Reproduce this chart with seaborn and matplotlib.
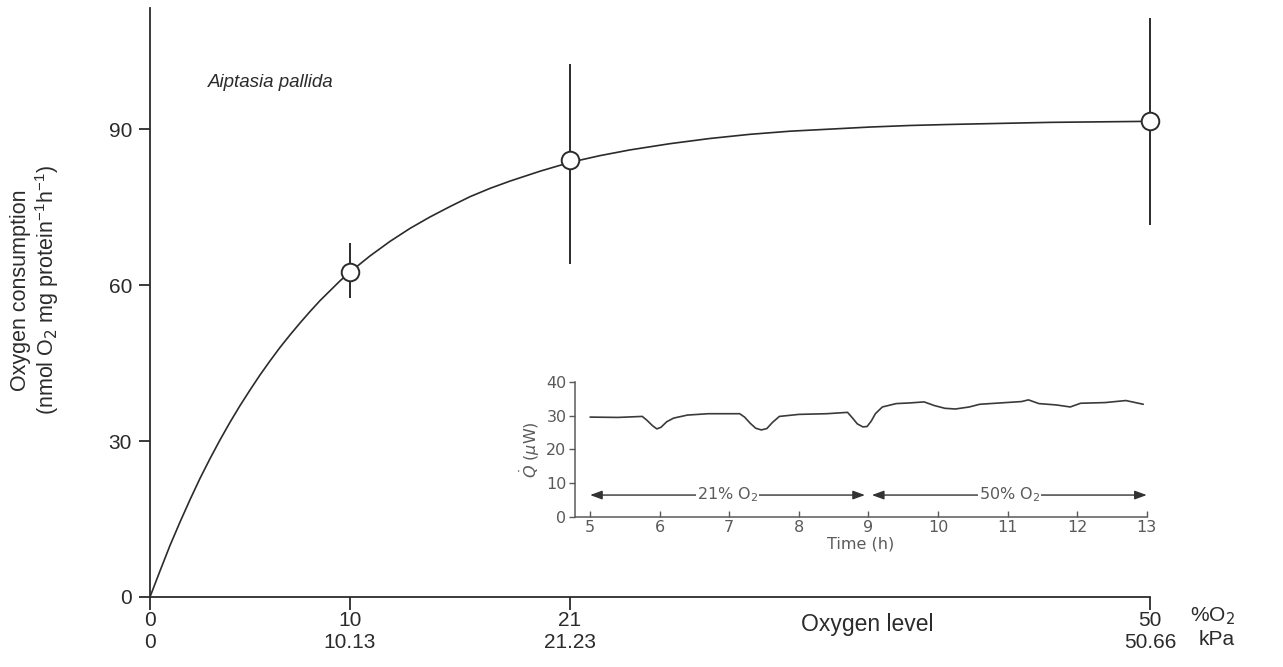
import matplotlib
matplotlib.use("Agg")
import matplotlib.pyplot as plt
import numpy as np
import pandas as pd
import seaborn as sns

# main panel: oxygen consumption vs oxygen level
pct_o2 = [0, 10, 21, 50]
kpa_labels = ["0", "10.13", "21.23", "50.66"]
y_ticks = [0, 30, 60, 90]

obs_x = [10, 21, 50]
obs_mean = [62.5, 84.0, 91.5]
obs_low = [57.5, 64.0, 71.5]
obs_high = [68.0, 102.5, 111.3]

# fitted curve
curve_x = [0, 0.5, 1, 1.5, 2, 2.5, 3, 3.5, 4, 4.5, 5, 5.5, 6, 6.5, 7, 7.5, 8, 8.5, 9, 9.5, 10,
           11, 12, 13, 14, 15, 16, 17, 18, 19.5, 21, 22.5, 24, 26, 28, 30, 32, 34, 36, 38, 40,
           42.5, 45, 47.5, 50]
curve_y = [0, 5.0, 9.9, 14.4, 18.7, 22.8, 26.6, 30.2, 33.6, 36.8, 39.8, 42.7, 45.4, 48.0,
           50.4, 52.7, 54.9, 57.0, 58.9, 60.8, 62.5, 65.6, 68.4, 70.9, 73.1, 75.1, 77.0, 78.6,
           80.0, 81.9, 83.6, 84.9, 86.0, 87.2, 88.2, 89.0, 89.6, 90.0, 90.4, 90.7, 90.9, 91.1,
           91.3, 91.4, 91.5]

# inset: heat flow trace
trace_t = [5.0, 5.4, 5.75, 5.82, 5.9, 5.96, 6.02, 6.1, 6.2, 6.4, 6.7, 7.15, 7.22, 7.3, 7.38,
           7.46, 7.54, 7.62, 7.72, 8.0, 8.4, 8.7, 8.76, 8.84, 8.92, 8.98, 9.04, 9.1, 9.2, 9.4,
           9.6, 9.8, 9.95, 10.1, 10.25, 10.45, 10.6, 10.9, 11.2, 11.3, 11.45, 11.7, 11.9, 12.05,
           12.4, 12.7, 12.95]
trace_q = [29.6, 29.5, 29.8, 28.6, 27.0, 26.1, 26.6, 28.2, 29.3, 30.2, 30.6, 30.6, 29.6, 27.8,
           26.3, 25.8, 26.2, 28.0, 29.8, 30.4, 30.6, 31.0, 29.6, 27.6, 26.7, 26.8, 28.4, 30.6,
           32.6, 33.6, 33.8, 34.1, 33.0, 32.2, 32.0, 32.6, 33.4, 33.8, 34.2, 34.7, 33.6, 33.2,
           32.6, 33.7, 33.9, 34.5, 33.4]
inset_xticks = [5, 6, 7, 8, 9, 10, 11, 12, 13]
inset_yticks = [0, 10, 20, 30, 40]
phases = [(5.0, 8.95, "21% O$_2$"), (9.05, 13.0, "50% O$_2$")]
phase_level = 6.5

sns.set_theme(style="ticks")
plt.rcParams["font.family"] = ["Liberation Sans", "DejaVu Sans"]
ink = "#2b2b2b"
grey = "#5a5a5a"

fig = plt.figure(figsize=(12.83, 6.67), dpi=100)
fig.patch.set_facecolor("white")
ax = fig.add_axes([0.1169, 0.105, 0.7794, 0.883])

curve_df = pd.DataFrame({"x": curve_x, "y": curve_y})
sns.lineplot(data=curve_df, x="x", y="y", ax=ax, color=ink, lw=1.2, clip_on=False)
ax.vlines(obs_x, obs_low, obs_high, color=ink, lw=1.4, clip_on=False, zorder=3)
sns.scatterplot(x=obs_x, y=obs_mean, ax=ax, s=160, marker="o", facecolor="white",
                edgecolor=ink, linewidth=1.4, zorder=4, clip_on=False)

ax.set_xlim(0, 50)
ax.set_ylim(0, 113.3)
ax.set_xticks(pct_o2)
ax.set_xticklabels([f"{p}\n{k}" for p, k in zip(pct_o2, kpa_labels)], fontsize=15, color=ink)
ax.set_yticks(y_ticks)
ax.set_yticklabels([str(v) for v in y_ticks], fontsize=15, color=ink)
ax.tick_params(axis="x", length=9, width=1.3, pad=1, color=ink)
ax.tick_params(axis="y", length=8, width=1.3, pad=5, color=ink)
sns.despine(ax=ax)
for s in ["left", "bottom"]:
    ax.spines[s].set_linewidth(1.3)
    ax.spines[s].set_color(ink)
ax.set_xlabel("")
ax.set_ylabel("")

ax.text(2.9, 99, "Aiptasia pallida", style="italic", fontsize=13.5, color=ink, va="center")
fig.text(0.676, 0.064, "Oxygen level", fontsize=16.5, color=ink, ha="center", va="center")
fig.text(0.945, 0.076, "%O$_2$", fontsize=15, color=ink, ha="center", va="center")
fig.text(0.948, 0.041, "kPa", fontsize=15, color=ink, ha="center", va="center")
fig.text(0.028, 0.565, "Oxygen consumption\n(nmol O$_2$ mg protein$^{\\mathregular{-1}}$h$^{\\mathregular{-1}}$)",
         rotation=90, fontsize=15.5, color=ink, ha="center", va="center", linespacing=1.1)

# inset
ins = fig.add_axes([0.448, 0.2249, 0.4458, 0.2024])
ins.patch.set_alpha(0)
trace_df = pd.DataFrame({"t": trace_t, "q": trace_q})
sns.lineplot(data=trace_df, x="t", y="q", ax=ins, color="#3a3a3a", lw=1.2)
ins.set_xlim(4.78, 13.0)
ins.set_ylim(0, 40)
ins.set_xticks(inset_xticks)
ins.set_yticks(inset_yticks)
ins.tick_params(labelsize=11.5, labelcolor=grey, color=grey, length=4, width=1, pad=2)
ins.tick_params(axis="x", direction="in")
sns.despine(ax=ins)
for s in ["left", "bottom"]:
    ins.spines[s].set_linewidth(1.1)
    ins.spines[s].set_color(grey)
ins.set_xlabel("Time (h)", fontsize=11.5, color=grey, labelpad=1,
               family=["DejaVu Sans"])
ins.set_ylabel("$\\dot{Q}$ ($\\mu$W)", fontsize=11.5, color=grey, labelpad=3,
               family=["DejaVu Sans"])
for lab in ins.get_xticklabels() + ins.get_yticklabels():
    lab.set_family(["DejaVu Sans"])

for t0, t1, lab in phases:
    ins.annotate("", xy=(t0, phase_level), xytext=(t1, phase_level),
                 arrowprops=dict(arrowstyle="<|-|>,head_length=0.6,head_width=0.22",
                                 color="#333333", lw=1.0, shrinkA=0, shrinkB=0))
    ins.text((t0 + t1) / 2, phase_level, lab, fontsize=11.5, color=grey, ha="center",
             va="center", family=["DejaVu Sans"],
             bbox=dict(facecolor="white", edgecolor="none", pad=0.5))

fig.savefig("out.png", dpi=100, facecolor="white")
